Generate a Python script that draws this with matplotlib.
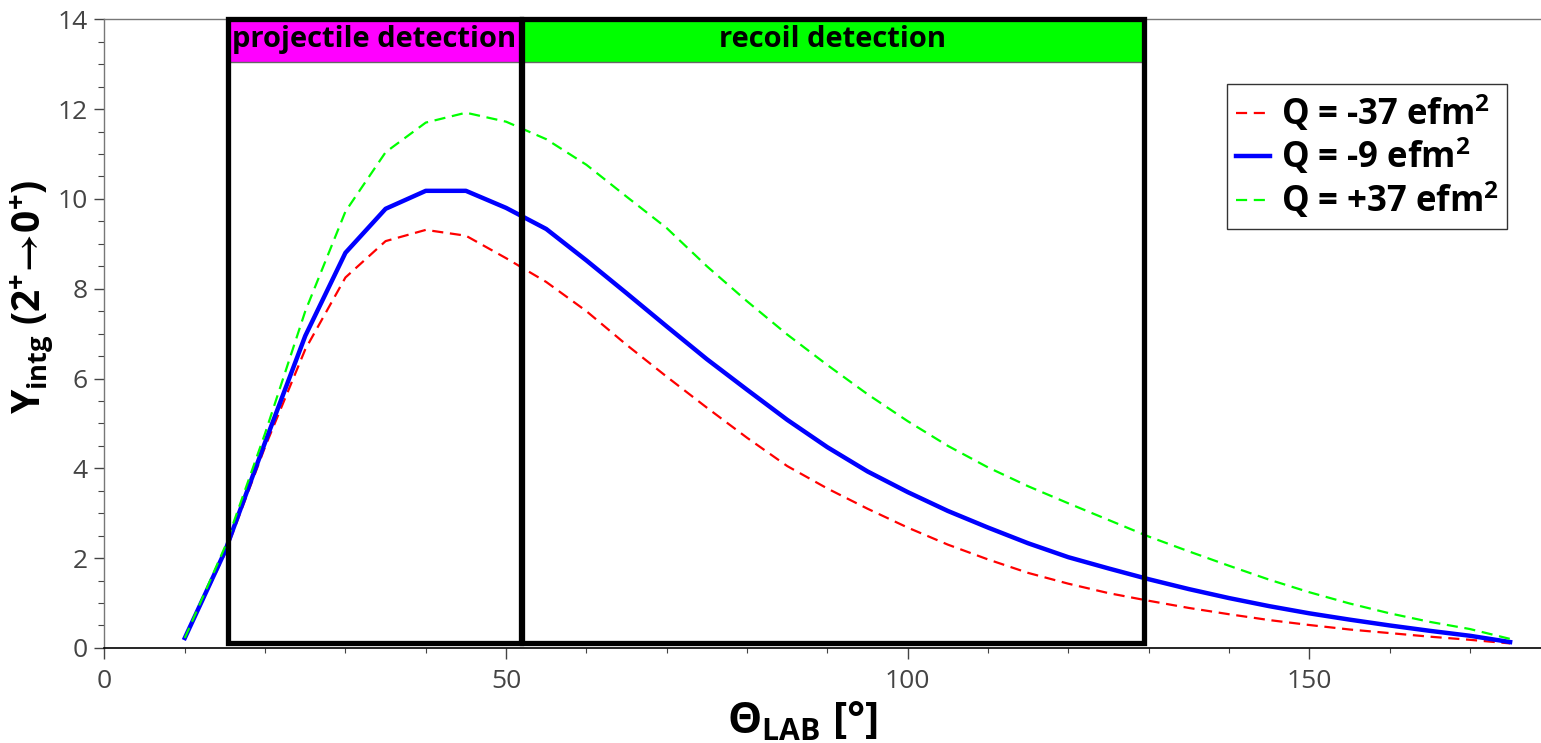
import numpy as np
import matplotlib
matplotlib.use("Agg")
import matplotlib.pyplot as plt
from matplotlib.patches import Rectangle

plt.rcParams['font.family'] = ['Open Sans', 'DejaVu Sans']
plt.rcParams['mathtext.fontset'] = 'custom'
plt.rcParams['mathtext.rm'] = 'Open Sans'
plt.rcParams['mathtext.bf'] = 'Open Sans:bold'
plt.rcParams['mathtext.it'] = 'Open Sans:italic'
plt.rcParams['mathtext.fallback'] = 'stix'

# scattering angle in the lab frame (deg)
theta = np.arange(10, 180, 5)

# integrated yield for the three quadrupole moments
y_m37 = [0.22, 2.10, 4.48, 6.65, 8.25, 9.06, 9.31, 9.18, 8.68, 8.15,
         7.50, 6.75, 6.04, 5.35, 4.68, 4.05, 3.55, 3.10, 2.68, 2.30,
         1.97, 1.67, 1.43, 1.22, 1.05, 0.89, 0.75, 0.62, 0.51, 0.41,
         0.33, 0.25, 0.18, 0.10]
y_m9 = [0.22, 2.15, 4.58, 6.95, 8.80, 9.78, 10.18, 10.18, 9.80, 9.33,
        8.63, 7.90, 7.16, 6.43, 5.75, 5.08, 4.47, 3.93, 3.47, 3.05,
        2.68, 2.33, 2.02, 1.77, 1.53, 1.31, 1.11, 0.93, 0.77, 0.63,
        0.50, 0.38, 0.27, 0.13]
y_p37 = [0.22, 2.25, 4.78, 7.50, 9.72, 11.04, 11.70, 11.92, 11.72, 11.33,
         10.76, 10.05, 9.35, 8.50, 7.72, 6.98, 6.30, 5.65, 5.05, 4.50,
         4.02, 3.60, 3.22, 2.85, 2.48, 2.15, 1.83, 1.52, 1.24, 0.99,
         0.77, 0.58, 0.42, 0.20]

labels = [r'Q = -37 efm$^{\mathbf{2}}$', r'Q = -9 efm$^{\mathbf{2}}$',
          r'Q = +37 efm$^{\mathbf{2}}$']

# detection regions (deg)
region_names = ['projectile detection', 'recoil detection']
region_lo = [15.4, 52.0]
region_hi = [51.8, 129.4]
region_colors = ['#ff00ff', '#00ff00']

fig = plt.figure(figsize=(15.41, 7.43), dpi=100)
ax = fig.add_axes([0.0678, 0.128, 0.933, 0.846])

ax.plot(theta, y_m37, color='red', lw=1.6, ls=(0, (5, 3)), label=labels[0])
ax.plot(theta, y_m9, color='blue', lw=3.2, label=labels[1])
ax.plot(theta, y_p37, color='#00ff00', lw=1.6, ls=(0, (5, 3)), label=labels[2])

ax.set_xlim(0, 179)
ax.set_ylim(0, 14)

# region boxes with coloured header bands
for name, lo, hi, col in zip(region_names, region_lo, region_hi, region_colors):
    ax.add_patch(Rectangle((lo, 13.05), hi - lo, 0.95, facecolor=col,
                           edgecolor='#666666', lw=1, zorder=3, clip_on=False))
    ax.add_patch(Rectangle((lo, 0.1), hi - lo, 13.9, facecolor='none',
                           edgecolor='black', lw=3.8, zorder=4, clip_on=False))
    ax.text((lo + hi) / 2, 13.55, name, ha='center', va='center',
            fontsize=21, fontweight='bold', color='black', zorder=5)

ax.set_xticks([0, 50, 100, 150])
ax.set_xticks(np.arange(0, 180, 10), minor=True)
ax.set_yticks(np.arange(0, 15, 2))
ax.set_yticks(np.arange(0, 14.1, 0.5), minor=True)
ax.tick_params(axis='both', which='both', direction='out', labelsize=19,
               labelcolor='#444444', color='#444444')
ax.tick_params(axis='x', which='major', length=8, width=1, pad=7)
ax.tick_params(axis='x', which='minor', length=3.5, width=0.8)
ax.tick_params(axis='y', which='major', length=7, width=1, pad=5)
ax.tick_params(axis='y', which='minor', length=4, width=0.8)

for side in ['left', 'top', 'right']:
    ax.spines[side].set_color('#777777')
    ax.spines[side].set_linewidth(1)
ax.spines['bottom'].set_color('black')
ax.spines['bottom'].set_linewidth(1.2)

fig.text(0.521, 0.028, r'$\mathbf{\Theta_{LAB}}$ [°]', fontsize=31,
         fontweight='bold', ha='center', va='center')
fig.text(0.021, 0.60,
         r'$\mathbf{Y_{intg}}$ (2$^{\mathbf{+}}\!\mathbf{\rightarrow}\!$0$^{\mathbf{+}}$)',
         fontsize=28, fontweight='bold', rotation=90, ha='center', va='center')

leg = ax.legend(loc='upper right', bbox_to_anchor=(0.9756, 0.897),
                borderaxespad=0, prop={'weight': 'bold', 'size': 25},
                handlelength=1.0, handletextpad=0.3, labelspacing=0.05,
                borderpad=0.25, fancybox=False, frameon=True)
leg.get_frame().set_edgecolor('black')
leg.get_frame().set_linewidth(1)

fig.savefig('out.png', dpi=100)
